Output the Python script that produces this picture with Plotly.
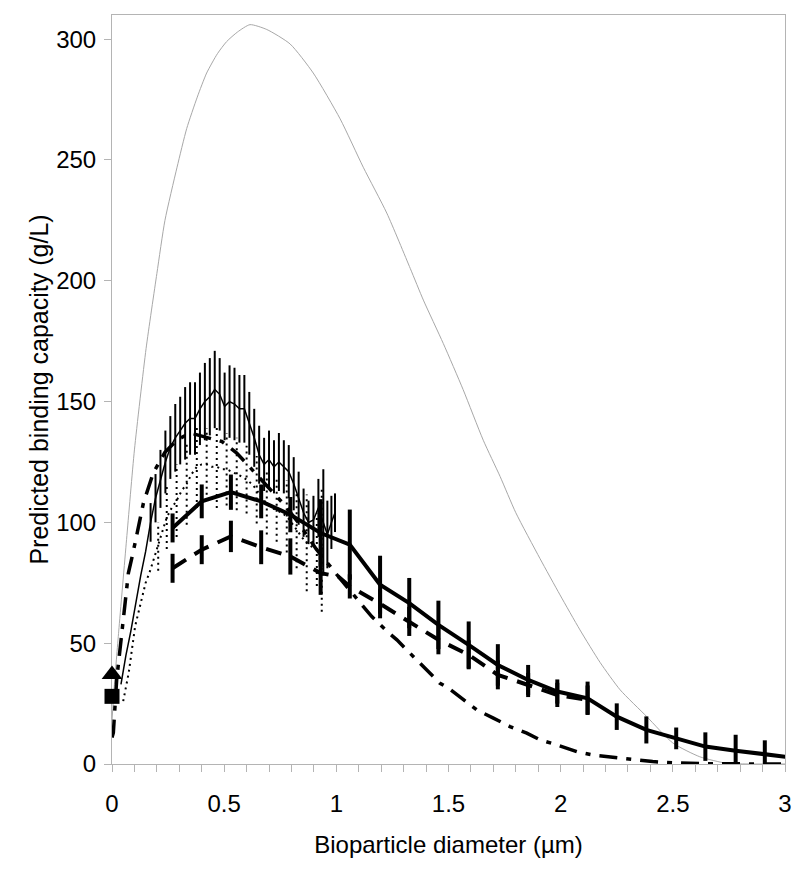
import plotly.graph_objects as go

# ---- Data ----
# theoretical curve (thin grey)
theory_x = [0.0, 0.01, 0.03, 0.065, 0.10, 0.152, 0.20, 0.236, 0.29, 0.333, 0.38, 0.422, 0.47, 0.511,
            0.56, 0.615, 0.69, 0.794, 0.897, 1.017, 1.12, 1.225, 1.33, 1.388, 1.477, 1.565, 1.655,
            1.73, 1.80, 1.908, 1.997, 2.086, 2.176, 2.265, 2.384, 2.50, 2.62, 2.74, 2.85, 3.0]
theory_y = [18, 32, 55, 93, 130, 172, 203, 225, 247, 263, 276, 286, 294, 299,
            303, 306, 304, 298, 286, 267, 247, 228, 205, 192, 174, 155, 134,
            119, 104, 85, 70, 55.5, 42, 30.7, 19.6, 8.7, 3.0, 0.3, 0.0, 0.0]

# thin black line with error bars
thin_x = [0.040, 0.062, 0.084, 0.106, 0.128, 0.150, 0.172, 0.194, 0.216, 0.238, 0.260, 0.282,
          0.304, 0.326, 0.348, 0.370, 0.392, 0.414, 0.436, 0.458, 0.480, 0.502, 0.524, 0.546,
          0.568, 0.590, 0.612, 0.634, 0.656, 0.678, 0.700, 0.722, 0.744, 0.766, 0.788, 0.810,
          0.832, 0.854, 0.876, 0.898, 0.920, 0.942, 0.960, 0.978, 0.994]
thin_y = [33, 45, 55, 67, 78, 88, 100, 110, 118, 125, 131, 135,
          138, 141, 143, 143, 147, 150, 152, 155, 153, 148, 150, 149,
          147, 147, 141, 135, 128, 124, 126, 123, 125, 123, 121, 116,
          110, 104, 100, 101, 106, 100, 95, 100, 104]
thin_err = [0, 0, 0, 0, 0, 0, 8, 10, 12, 13, 13, 14,
            14, 15, 15, 15, 15, 16, 16, 16, 15, 14, 15, 15,
            14, 14, 13, 12, 12, 11, 12, 11, 12, 11, 11, 11,
            11, 10, 9, 10, 12, 22, 14, 11, 8]

# dotted series with dotted error bars
dot_x = [0.05, 0.075, 0.103, 0.13, 0.15, 0.17, 0.19, 0.206, 0.225, 0.244, 0.266, 0.288,
         0.31, 0.333, 0.355, 0.378, 0.40, 0.422, 0.444, 0.467, 0.49, 0.511, 0.533, 0.556,
         0.578, 0.60, 0.622, 0.645, 0.667, 0.69, 0.712, 0.734, 0.756, 0.779, 0.80, 0.823,
         0.845, 0.868, 0.89, 0.913, 0.935, 0.957]
dot_y = [26, 38, 57, 68, 75, 80, 86, 90, 96, 102, 106, 109,
         113, 116, 120, 123, 124, 124, 123, 123, 122, 122, 121, 120,
         119, 117.7, 116, 113.5, 110, 108, 106, 105, 104, 102.5, 100, 97,
         94, 91.5, 90, 88.7, 89, 90]
dot_err = [0, 0, 0, 0, 0, 0, 0, 10, 0, 13, 0, 15,
           0, 17, 0, 17, 0, 15, 0, 17, 0, 15, 0, 15,
           0, 14, 0, 14, 0, 13, 0, 13, 0, 15, 0, 16,
           0, 20, 0, 15, 26, 0]

# dash-dot series
dd_x = [0.0, 0.006, 0.021, 0.036, 0.05, 0.073, 0.095, 0.14, 0.184, 0.236, 0.288, 0.348,
        0.489, 0.556, 0.608, 0.66, 0.719, 0.768, 0.83, 0.91, 1.009, 1.105, 1.158, 1.225,
        1.27, 1.314, 1.462, 1.498, 1.565, 1.626, 1.70, 1.774, 1.849, 1.908, 1.983, 2.072,
        2.146, 2.25, 2.31, 2.41, 2.50, 2.65, 3.0]
dd_y = [11, 13, 35, 47, 61, 79, 88, 108, 120.5, 129, 134, 137,
        133.5, 128.7, 123.5, 118.4, 112.2, 107.3, 100, 89, 77.6, 66.6, 61, 55,
        51.4, 47.2, 33.4, 31.5, 26.5, 22.4, 19, 15.5, 12.8, 10, 7.9, 5.1,
        3.7, 2.6, 1.7, 1.0, 0.5, 0.1, 0.0]

# thick solid series with error bars
solid_x = [0.27, 0.40, 0.53, 0.665, 0.795, 0.93, 1.06, 1.195, 1.325, 1.455, 1.59, 1.72,
           1.855, 1.985, 2.12, 2.25, 2.382, 2.515, 2.645, 2.78, 2.91, 3.04]
solid_y = [97.7, 108.7, 112.5, 108.7, 103.2, 95.6, 90.8, 74.2, 66.6, 57.6, 49.3, 41,
           34.8, 30, 27.2, 19.6, 14.1, 10.6, 7.2, 5.5, 4.1, 2.6]
solid_err = [6, 7, 7.3, 7, 7.3, 14, 14.5, 12, 10.4, 10, 9.7, 8.6,
             6.2, 5, 6.9, 5.5, 5.6, 4.5, 5.9, 6.6, 5.7, 0]

# thick dashed series with error bars
dash_x = [0.27, 0.40, 0.53, 0.665, 0.795, 0.93, 1.009, 1.06, 1.195, 1.325, 1.455, 1.59, 1.72,
          1.855, 1.985, 2.12]
dash_y = [81, 88.7, 94.2, 89.7, 85.9, 79, 77.6, 73.5, 66.3, 59, 51.4, 45.2, 36.9,
          32.7, 28.6, 26.5]
dash_err = [6, 6, 6.5, 7, 7.5, 9, 0, 5, 6, 6, 6, 6, 6,
            5, 5, 6]

# single-point markers at x = 0
tri_x, tri_y = [0.0], [37]
sq_x, sq_y = [0.0], [28]

x_ticks = [0, 0.5, 1, 1.5, 2, 2.5, 3]
x_ticktext = ["0", "0.5", "1", "1.5", "2", "2.5", "3"]
y_ticks = [0, 50, 100, 150, 200, 250, 300]

FONT = "Arial, 'Liberation Sans', sans-serif"
AXIS_GREY = "#b4b4b4"

fig = go.Figure()

# theoretical grey curve
fig.add_trace(go.Scatter(x=theory_x, y=theory_y, mode="lines",
                         line=dict(color="#a8a8a8", width=1, shape="spline", smoothing=0.6),
                         showlegend=False, hoverinfo="skip"))

# dotted error bars (built from data as None-separated segments)
seg_x, seg_y = [], []
for xv, yv, ev in zip(dot_x, dot_y, dot_err):
    if ev > 0:
        seg_x += [xv, xv, None]
        seg_y += [yv - ev, yv + ev, None]
fig.add_trace(go.Scatter(x=seg_x, y=seg_y, mode="lines",
                         line=dict(color="black", width=2, dash="2px,4px"),
                         showlegend=False, hoverinfo="skip"))
fig.add_trace(go.Scatter(x=dot_x, y=dot_y, mode="lines",
                         line=dict(color="black", width=2, dash="2px,4px"),
                         showlegend=False))

# thin black line with error bars
fig.add_trace(go.Scatter(x=thin_x, y=thin_y, mode="lines",
                         line=dict(color="black", width=1.5),
                         error_y=dict(type="data", array=thin_err, symmetric=True,
                                      width=0, thickness=2, color="black"),
                         showlegend=False))

# dash-dot series
fig.add_trace(go.Scatter(x=dd_x, y=dd_y, mode="lines",
                         line=dict(color="black", width=3.5, dash="18px,9px,5px,9px"),
                         showlegend=False))

# thick dashed series
fig.add_trace(go.Scatter(x=dash_x, y=dash_y, mode="lines",
                         line=dict(color="black", width=4, dash="16px,10px"),
                         error_y=dict(type="data", array=dash_err, symmetric=True,
                                      width=0, thickness=4, color="black"),
                         showlegend=False))

# thick solid series
fig.add_trace(go.Scatter(x=solid_x, y=solid_y, mode="lines",
                         line=dict(color="black", width=4),
                         error_y=dict(type="data", array=solid_err, symmetric=True,
                                      width=0, thickness=4, color="black"),
                         showlegend=False))

# markers
fig.add_trace(go.Scatter(x=tri_x, y=tri_y, mode="markers", cliponaxis=False,
                         marker=dict(symbol="triangle-up", size=18, color="black"),
                         showlegend=False))
fig.add_trace(go.Scatter(x=sq_x, y=sq_y, mode="markers", cliponaxis=False,
                         marker=dict(symbol="square", size=15, color="black"),
                         showlegend=False))

# page body has an 8px default margin, so margins are offset to compensate
fig.update_layout(
    width=800, height=874,
    margin=dict(l=104, r=23, t=7, b=118, autoexpand=False),
    paper_bgcolor="white", plot_bgcolor="white",
    font=dict(family=FONT, color="black", size=24),
    showlegend=False,
)
fig.update_xaxes(
    range=[0, 3], showgrid=False, zeroline=False, automargin=False, layer="below traces",
    showline=True, linecolor=AXIS_GREY, linewidth=1, mirror=True,
    tickmode="array", tickvals=x_ticks, ticktext=x_ticktext,
    ticks="outside", ticklen=7, tickcolor=AXIS_GREY, tickwidth=1,
    minor=dict(dtick=0.1, ticks="outside", ticklen=7, tickcolor=AXIS_GREY, tickwidth=1, showgrid=False),
    tickfont=dict(size=24, family=FONT), ticklabelstandoff=11,
    title=dict(text="Bioparticle diameter (µm)", font=dict(size=24, family=FONT), standoff=20),
)
fig.update_yaxes(
    range=[0, 310], showgrid=False, zeroline=False, automargin=False, layer="below traces",
    showline=True, linecolor=AXIS_GREY, linewidth=1, mirror=True,
    tickmode="array", tickvals=y_ticks,
    ticks="outside", ticklen=7, tickcolor=AXIS_GREY, tickwidth=1,
    tickfont=dict(size=24, family=FONT), ticklabelstandoff=3,
    title=dict(text="Predicted binding capacity (g/L)", font=dict(size=25, family=FONT), standoff=0),
)

fig.write_html("out.html")
